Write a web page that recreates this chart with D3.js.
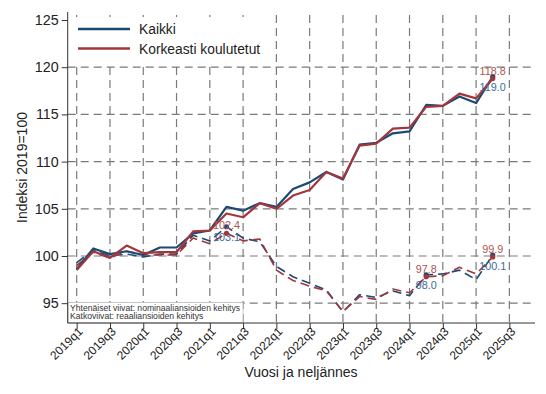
<!DOCTYPE html>
<html>
<head>
<meta charset="utf-8">
<script src="https://cdn.jsdelivr.net/npm/d3@7"></script>
<style>
  body { margin: 0; background: #fff; }
  svg { font-family: "Liberation Sans", Arial, sans-serif; }
</style>
</head>
<body>
<svg id="chart" width="546" height="394"></svg>
<script>
// quarters 2019q1 .. 2025q2
var quarters = ["2019q1","2019q2","2019q3","2019q4","2020q1","2020q2","2020q3","2020q4",
  "2021q1","2021q2","2021q3","2021q4","2022q1","2022q2","2022q3","2022q4",
  "2023q1","2023q2","2023q3","2023q4","2024q1","2024q2","2024q3","2024q4",
  "2025q1","2025q2"]

// nominal (solid)
var kaikkiNom = [98.6, 100.8, 100.2, 100.5, 100.1, 100.9, 100.9, 102.4, 102.7, 105.2, 104.8, 105.6, 105.2,
  107.1, 107.8, 108.9, 108.1, 111.8, 112.0, 113.0, 113.2, 116.0, 115.9, 116.9, 116.2, 119.0]
var korkNom = [98.5, 100.5, 99.8, 101.1, 100.3, 100.4, 100.4, 102.6, 102.7, 104.5, 104.1, 105.6, 105.0,
  106.4, 107.0, 108.9, 108.2, 111.7, 111.9, 113.5, 113.6, 115.8, 115.9, 117.2, 116.7, 118.8]

// real (dashed)
var kaikkiReal = [99.3, 100.6, 100.0, 100.2, 99.9, 100.2, 100.2, 102.2, 101.6, 103.1, 101.9, 101.5, 98.9,
  97.8, 97.1, 96.4, 94.1, 95.9, 95.6, 96.3, 95.8, 98.0, 98.1, 98.5, 97.5, 100.1]
var korkReal = [99.0, 100.4, 99.8, 100.5, 100.1, 100.1, 100.1, 101.9, 101.3, 102.4, 101.6, 101.8, 98.5,
  97.4, 96.8, 96.3, 94.1, 95.7, 95.4, 96.5, 96.1, 97.8, 97.9, 98.8, 98.1, 99.9]

var xTickLabels = ["2019q1","2019q3","2020q1","2020q3","2021q1","2021q3","2022q1","2022q3",
  "2023q1","2023q3","2024q1","2024q3","2025q1","2025q3"]
var yTicks = [95, 100, 105, 110, 115, 120, 125]
var yGrid = [95, 100, 105, 110, 115, 120]

// labelled points (quarter index)
var realMarks = [9, 21, 25]
var nomMarks = [25]

var blue = "#1d4a72", red = "#a3363c"
var blueLab = "#3a6c9a", redLab = "#b0544f"

var svg = d3.select("#chart")

var x = d3.scaleLinear().domain([-0.54, 27.54]).range([67.7, 535])
var y = d3.scaleLinear().domain([92.9, 125.85]).range([323, 12])

// grid
svg.append("g").selectAll("line")
   .data(xTickLabels)
   .enter()
   .append("line")
   .attr("x1", (d, i) => x(i * 2)).attr("x2", (d, i) => x(i * 2))
   .attr("y1", y(125.85) + 3).attr("y2", y(92.9))
   .attr("stroke", "#7a7a7a").attr("stroke-width", 1.2)
   .attr("stroke-dasharray", "8,5")

svg.append("g").selectAll("line")
   .data(yGrid)
   .enter()
   .append("line")
   .attr("x1", x(-0.54)).attr("x2", x(27.54))
   .attr("y1", d => y(d)).attr("y2", d => y(d))
   .attr("stroke", "#7a7a7a").attr("stroke-width", 1.2)
   .attr("stroke-dasharray", "8,5")

// note box (behind lines)
var note = svg.append("g")
note.append("rect")
   .attr("x", 68).attr("y", 302.5).attr("width", 175).attr("height", 20.5)
   .attr("fill", "#fff").attr("stroke", "#bbb").attr("stroke-width", 0.8)
note.append("text").attr("x", 70).attr("y", 310.5)
   .attr("font-size", 8.6).attr("fill", "#333")
   .text("Yhtenäiset viivat: nominaaliansioiden kehitys")
note.append("text").attr("x", 70).attr("y", 319)
   .attr("font-size", 8.6).attr("fill", "#333")
   .text("Katkoviivat: reaaliansioiden kehitys")

// legend background
svg.append("rect")
   .attr("x", 70).attr("y", 17).attr("width", 202).attr("height", 46)
   .attr("fill", "#fff")

var line = d3.line()
   .x((d, i) => x(i))
   .y(d => y(d))

var series = [
  {v: kaikkiReal, c: blue, dash: "9,5", w: 1.6},
  {v: korkReal, c: red, dash: "9,5", w: 1.6},
  {v: kaikkiNom, c: blue, dash: null, w: 2.2},
  {v: korkNom, c: red, dash: null, w: 2.2}
]

svg.append("g").selectAll("path")
   .data(series)
   .enter()
   .append("path")
   .attr("d", d => line(d.v))
   .attr("fill", "none")
   .attr("stroke", d => d.c)
   .attr("stroke-width", d => d.w)
   .attr("stroke-dasharray", d => d.dash)
   .attr("stroke-linejoin", "round")

// markers + labels
function mark(vals, idx, color, labColor, above) {
  idx.forEach(function(i) {
    svg.append("circle")
       .attr("cx", x(i)).attr("cy", y(vals[i])).attr("r", 2.6)
       .attr("fill", color)
    svg.append("text")
       .attr("x", x(i)).attr("y", above ? y(vals[i]) - 4 : y(vals[i]) + 14.5)
       .attr("text-anchor", "middle")
       .attr("font-size", 10.8)
       .attr("fill", labColor)
       .text(vals[i].toFixed(1))
  })
}
mark(kaikkiReal, realMarks, blue, blueLab, false)
mark(korkReal, realMarks, red, redLab, true)
mark(kaikkiNom, nomMarks, blue, blueLab, false)
mark(korkNom, nomMarks, red, redLab, true)

// axes
var yAxis = d3.axisLeft(y).tickValues(yTicks).tickSize(6).tickPadding(3)
var yg = svg.append("g").attr("transform", "translate(" + x(-0.54) + ",0)").call(yAxis)
yg.select(".domain").attr("stroke", "#333").attr("d", "M0," + y(125.85) + "V" + y(92.9))
yg.selectAll(".tick line").attr("stroke", "#333")
yg.selectAll(".tick text").attr("font-size", 14.3).attr("fill", "#222")
   .attr("font-family", "Liberation Sans, Arial, sans-serif")

var xAxis = d3.axisBottom(x)
   .tickValues(xTickLabels.map((d, i) => i * 2))
   .tickFormat((d, i) => xTickLabels[i])
   .tickSize(6)
var xg = svg.append("g").attr("transform", "translate(0," + y(92.9) + ")").call(xAxis)
xg.select(".domain").attr("stroke", "#333").attr("d", "M" + x(-0.54) + ",0H" + x(27.54))
xg.selectAll(".tick line").attr("stroke", "#333")
xg.selectAll(".tick text")
   .attr("font-size", 12).attr("fill", "#222")
   .attr("font-family", "Liberation Sans, Arial, sans-serif")
   .attr("text-anchor", "end")
   .attr("dy", null)
   .attr("transform", "translate(2,5) rotate(-45)")
   .attr("y", 6).attr("x", 0)

// axis titles
svg.append("text")
   .attr("transform", "translate(27,167.5) rotate(-90)")
   .attr("text-anchor", "middle")
   .attr("font-size", 14).attr("fill", "#222")
   .text("Indeksi 2019=100")

svg.append("text")
   .attr("x", 301).attr("y", 377)
   .attr("text-anchor", "middle")
   .attr("font-size", 14).attr("fill", "#222")
   .text("Vuosi ja neljännes")

// legend
var legend = [{name: "Kaikki", c: blue}, {name: "Korkeasti koulutetut", c: red}]
var lg = svg.append("g").selectAll("g")
   .data(legend)
   .enter()
   .append("g")
   .attr("transform", (d, i) => "translate(0," + (29 + i * 19.5) + ")")
lg.append("line").attr("x1", 78).attr("x2", 130)
   .attr("stroke", d => d.c).attr("stroke-width", 2.4)
lg.append("text").attr("x", 139).attr("y", 5)
   .attr("font-size", 13.8).attr("fill", "#222")
   .text(d => d.name)
</script>
</body>
</html>
